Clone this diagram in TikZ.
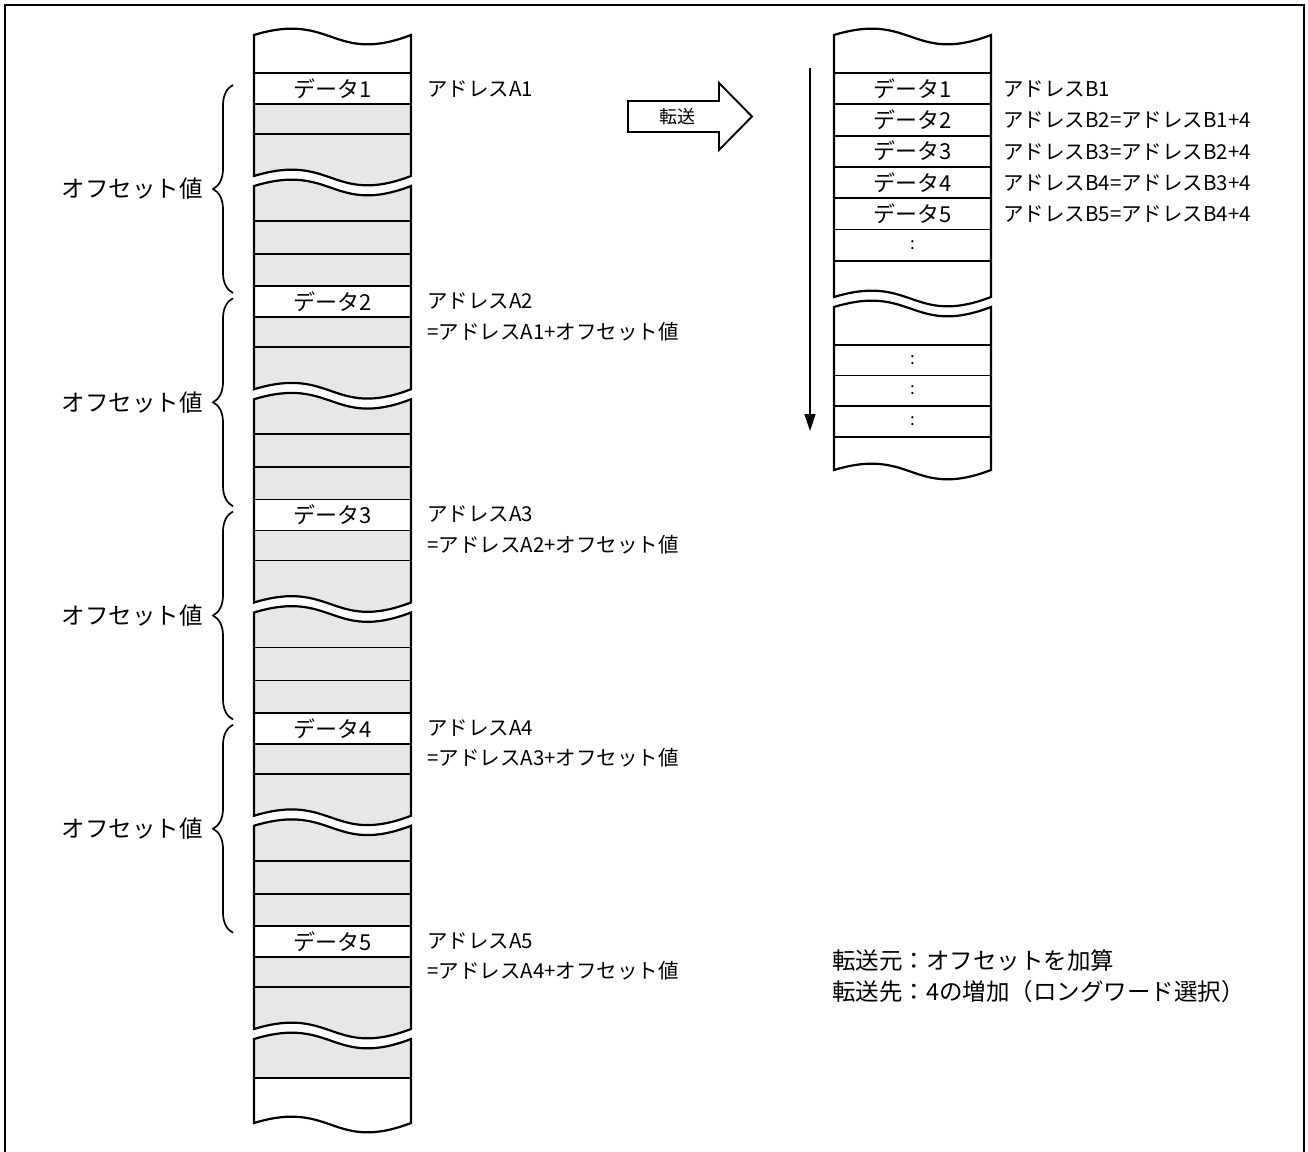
\documentclass[tikz,border=0pt]{standalone}
\usepackage{fontspec}
\setmainfont{Noto Sans CJK JP}
\usetikzlibrary{calc,decorations.pathreplacing,arrows.meta}
\definecolor{memgray}{RGB}{230,231,232}
\tikzset{
  memline/.style={line width=2.2pt},
  rowline/.style={line width=1.8pt},
  memfill/.style={fill=memgray},
  celltext/.style={font=\fontsize{22}{24}\selectfont, inner sep=0pt},
  dottext/.style={font=\fontsize{17}{18}\selectfont, inner sep=0pt},
  addrtext/.style={font=\fontsize{20.5}{22}\selectfont, anchor=west, inner sep=0pt},
  ofstext/.style={font=\fontsize{23.5}{25}\selectfont, anchor=east, inner sep=0pt},
  notetext/.style={font=\fontsize{23.5}{25}\selectfont, anchor=west, inner sep=0pt},
  ofsbrace/.style={line width=1.7pt, decorate, decoration={brace, amplitude=20pt}},
  brkedge/.style={to path={.. controls ($(\tikztostart)!0.5!(\tikztotarget)+(0,-24)$)
    and ($(\tikztostart)!0.5!(\tikztotarget)+(0,30)$) .. (\tikztotarget)}},
  brkback/.style={to path={.. controls ($(\tikztostart)!0.5!(\tikztotarget)+(0,30)$)
    and ($(\tikztostart)!0.5!(\tikztotarget)+(0,-24)$) .. (\tikztotarget)}}
}
\begin{document}
\begin{tikzpicture}[x=1pt,y=-1pt]
    \useasboundingbox (0,0) rectangle (1308,1151);

    % Rahmen
    \draw[line width=2.3pt] (5,1160) -- (5,5) -- (1304,5) -- (1304,1160);

    % Quellspeicher: graue Stuecke
    \foreach \ya/\yb in {35/176,186/389.25,399.25/602.5,612.5/815.75,825.75/1029,1039/1123}
        \fill[memfill] (254,\ya) to[brkedge] (411,\ya) -- (411,\yb) to[brkback] (254,\yb) -- cycle;
    \fill[white] (254,35) to[brkedge] (411,35) -- (411,73) -- (254,73) -- cycle;
    \fill[white] (254,1078) -- (411,1078) -- (411,1123) to[brkback] (254,1123) -- cycle;

    % Quellspeicher: Daten und Zeilen
    \foreach \n in {1,...,5} {
        \pgfmathsetmacro\yd{73+(\n-1)*213.25}
        \fill[white] (254,\yd) rectangle (411,\yd+31);
        \draw[rowline] (254,\yd) -- (411,\yd) (254,\yd+31) -- (411,\yd+31)
            (254,\yd+61) -- (411,\yd+61);
        \node[celltext] (srcd\n) at (332.5,\yd+15.5) {データ\n};
    }
    \foreach \n in {0,...,3} {
        \pgfmathsetmacro\yl{73+\n*213.25+148}
        \draw[rowline] (254,\yl) -- (411,\yl) (254,\yl+33) -- (411,\yl+33);
    }
    \draw[rowline] (254,1078) -- (411,1078);

    % Quellspeicher: Umrisse
    \foreach \ya/\yb in {35/176,186/389.25,399.25/602.5,612.5/815.75,825.75/1029,1039/1123}
        \draw[memline] (254,\ya) to[brkedge] (411,\ya) -- (411,\yb) to[brkback] (254,\yb) -- cycle;

    % Adressen der Quelle
    \node[addrtext] (srca1) at (427,89) {アドレスA1};
    \foreach \n in {2,...,5} {
        \pgfmathsetmacro\yd{73+(\n-1)*213.25}
        \pgfmathtruncatemacro\m{\n-1}
        \node[addrtext] (srca\n) at (427,\yd+15) {アドレスA\n};
        \node[addrtext] (srcb\n) at (427,\yd+45) {=アドレスA\m+オフセット値};
    }

    % Klammern
    \foreach \n in {1,...,4} {
        \pgfmathsetmacro\yc{73+(\n-1)*213.25+116}
        \draw[ofsbrace] (233,\yc+104) -- (233,\yc-104);
        \node[ofstext] (ofs\n) at (203,\yc) {オフセット値};
    }

    % Zielspeicher
    \foreach \i in {0,...,6}
        \draw[rowline] (834,{73+\i*31.3}) -- (991,{73+\i*31.3});
    \foreach \yl in {345,375.5,406,437}
        \draw[rowline] (834,\yl) -- (991,\yl);
    \foreach \ya/\yb in {35/297,307/470}
        \draw[memline] (834,\ya) to[brkedge] (991,\ya) -- (991,\yb) to[brkback] (834,\yb) -- cycle;
    \foreach \n in {1,...,5} {
        \pgfmathsetmacro\yd{73+(\n-1)*31.3+15.6}
        \node[celltext] (dstd\n) at (912.5,\yd) {データ\n};
    }
    \node[dottext] (dsto1) at (912.5,245) {:};
    \node[dottext] (dsto2) at (912.5,360) {:};
    \node[dottext] (dsto3) at (912.5,390.5) {:};
    \node[dottext] (dsto4) at (912.5,421.5) {:};

    % Adressen des Ziels
    \node[addrtext] (dsta1) at (1003,89) {アドレスB1};
    \foreach \n in {2,...,5} {
        \pgfmathtruncatemacro\m{\n-1}
        \pgfmathsetmacro\yd{73+(\n-1)*31.3+16}
        \node[addrtext] (dsta\n) at (1003,\yd) {アドレスB\n=アドレスB\m+4};
    }

    % Richtung
    \coordinate (flowtop) at (810,68);
    \coordinate (flowend) at (810,431);
    \draw[line width=1.4pt, -{Triangle[length=17pt,width=11pt]}] (flowtop) -- (flowend);

    % Transferpfeil
    \draw[line width=1.9pt, fill=white] (628,101) -- (719,101) -- (719,83) -- (752,116.5)
        -- (719,150) -- (719,132) -- (628,132) -- cycle;
    \node[font=\fontsize{18}{20}\selectfont, inner sep=0pt] (xfer) at (677,117) {転送};

    % Anmerkungen
    \node[notetext] (note1) at (832,961) {転送元：オフセットを加算};
    \node[notetext] (note2) at (832,992) {転送先：4の増加（ロングワード選択）};
\end{tikzpicture}
\end{document}
